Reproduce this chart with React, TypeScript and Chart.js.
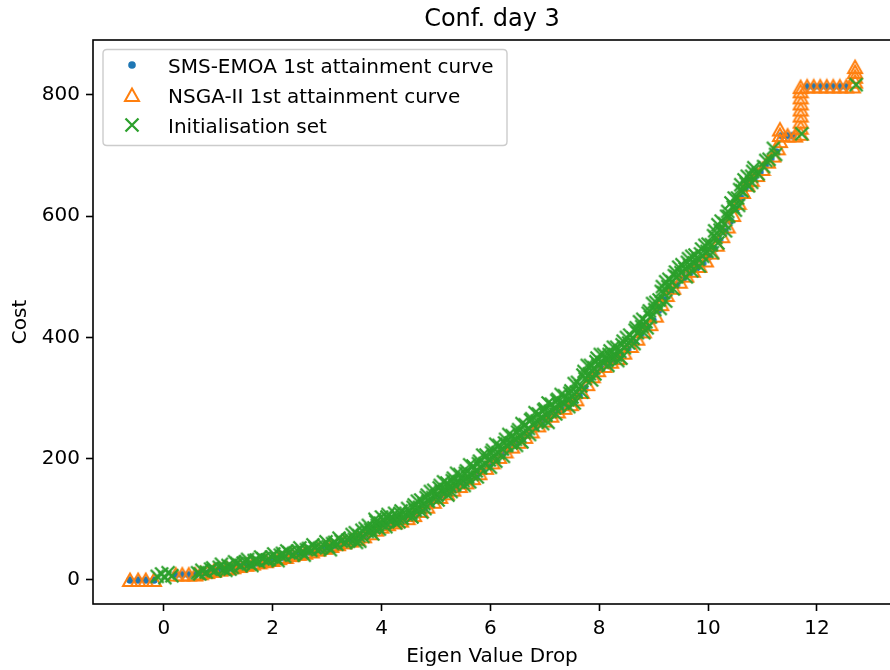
import React, { useEffect, useRef } from "react";
import { Chart, registerables } from "chart.js";

Chart.register(...registerables);

const TITLE = "Conf. day 3";
const X_LABEL = "Eigen Value Drop";
const Y_LABEL = "Cost";
const SERIES_LABELS = [
  "SMS-EMOA 1st attainment curve",
  "NSGA-II 1st attainment curve",
  "Initialisation set",
];
const SERIES_COLORS = ["#1f77b4", "#ff7f0e", "#2ca02c"];
const X_TICKS = [0, 2, 4, 6, 8, 10, 12];
const Y_TICKS = [0, 200, 400, 600, 800];
const X_RANGE = [-1.3, 13.36];
const Y_RANGE = [-39.6, 890.7];

const smsPoints: [number, number][] = [
  [-0.62, 0], [-0.47, 0], [-0.33, 0], [-0.18, 0], [0.22, 9], [0.34, 9], [0.46, 9], [0.58, 9],
  [0.74, 12], [0.86, 14], [0.98, 16], [1.1, 18], [1.22, 20], [1.34, 22], [1.46, 24], [1.58, 26],
  [1.7, 28], [1.82, 30], [1.94, 32], [2.06, 35], [2.18, 37], [2.3, 40], [2.42, 42], [2.54, 44],
  [2.66, 46], [2.78, 48], [2.9, 51], [3.02, 54], [3.14, 57], [3.26, 60], [3.38, 63], [3.5, 66],
  [3.62, 70], [3.74, 74], [3.85, 80], [3.95, 85], [4.06, 90], [4.18, 93], [4.3, 96], [4.42, 100],
  [4.54, 104], [4.66, 110], [4.78, 117], [4.9, 125], [5.02, 133], [5.14, 140], [5.26, 146], [5.38, 152],
  [5.5, 158], [5.62, 164], [5.74, 172], [5.86, 180], [5.98, 189], [6.1, 198], [6.22, 207], [6.34, 216],
  [6.46, 224], [6.58, 232], [6.7, 240], [6.82, 250], [6.94, 259], [7.06, 267], [7.18, 274], [7.3, 281],
  [7.42, 287], [7.53, 294], [7.63, 304], [7.73, 316], [7.83, 330], [7.93, 341], [8.04, 349], [8.16, 356],
  [8.28, 363], [8.4, 370], [8.52, 380], [8.64, 392], [8.76, 404], [8.88, 416], [8.99, 428], [9.09, 445],
  [9.19, 462], [9.3, 476], [9.42, 487], [9.54, 497], [9.66, 506], [9.78, 514], [9.9, 522], [10.01, 533],
  [10.11, 546], [10.21, 560], [10.31, 575], [10.41, 592], [10.51, 612], [10.6, 630], [10.68, 646], [10.76, 656],
  [10.85, 664], [10.95, 673], [11.05, 684], [11.15, 695], [11.25, 706], [11.35, 733], [11.45, 733], [11.55, 733],
  [11.82, 814], [11.94, 814], [12.06, 814], [12.18, 814], [12.3, 814], [12.42, 814], [12.54, 814],
];

const nsgaPoints: [number, number][] = [
  [-0.62, 0], [-0.47, 0], [-0.33, 0], [-0.18, 0], [0.22, 9], [0.34, 9], [0.46, 9], [0.58, 9],
  [0.68, 11], [0.8, 13], [0.92, 15], [1.04, 17], [1.16, 19], [1.28, 21], [1.4, 23], [1.52, 25],
  [1.64, 27], [1.76, 29], [1.88, 31], [2.0, 33], [2.12, 36], [2.24, 38], [2.36, 41], [2.48, 43],
  [2.6, 45], [2.72, 47], [2.84, 50], [2.96, 53], [3.08, 56], [3.2, 59], [3.32, 62], [3.44, 65],
  [3.56, 68], [3.68, 72], [3.8, 77], [3.9, 83], [4.0, 88], [4.12, 92], [4.24, 95], [4.36, 98],
  [4.48, 102], [4.6, 107], [4.72, 114], [4.84, 121], [4.96, 129], [5.08, 137], [5.2, 143], [5.32, 149],
  [5.44, 155], [5.56, 161], [5.68, 168], [5.8, 176], [5.92, 185], [6.04, 194], [6.16, 203], [6.28, 212],
  [6.4, 220], [6.52, 228], [6.64, 236], [6.76, 245], [6.88, 255], [7.0, 263], [7.12, 271], [7.24, 278],
  [7.36, 284], [7.48, 290], [7.58, 298], [7.68, 310], [7.78, 323], [7.88, 336], [7.98, 346], [8.1, 353],
  [8.22, 360], [8.34, 366], [8.46, 375], [8.58, 386], [8.7, 398], [8.82, 410], [8.94, 422], [9.04, 436],
  [9.14, 455], [9.24, 470], [9.36, 482], [9.48, 492], [9.6, 502], [9.72, 510], [9.84, 518], [9.96, 527],
  [10.06, 540], [10.16, 553], [10.26, 567], [10.36, 583], [10.46, 602], [10.56, 622], [10.64, 640], [10.72, 652],
  [10.8, 660], [10.9, 668], [11.0, 678], [11.1, 690], [11.2, 700], [11.28, 712], [11.32, 724], [11.32, 734],
  [11.32, 743], [11.46, 733], [11.6, 733], [11.7, 736], [11.7, 746], [11.7, 756], [11.7, 766], [11.7, 776],
  [11.7, 786], [11.7, 796], [11.7, 806], [11.7, 813], [11.82, 814], [11.94, 814], [12.06, 814], [12.18, 814],
  [12.3, 814], [12.42, 814], [12.54, 814], [12.66, 814], [12.7, 822], [12.7, 830], [12.7, 838], [12.7, 846],
];

const initPoints: [number, number][] = [
  [-0.12, 6], [-0.04, 10], [0.02, 4], [0.08, 12], [0.15, 7], [0.62, 12], [0.7, 16], [0.78, 13],
  [0.86, 18], [0.94, 15], [1.02, 21], [1.1, 18], [1.18, 24], [1.26, 21], [1.34, 27], [1.42, 24],
  [1.5, 30], [1.58, 27], [1.66, 32], [1.74, 30], [1.82, 35], [1.9, 33], [1.98, 38], [2.06, 36],
  [2.14, 41], [2.22, 39], [2.3, 45], [2.38, 42], [2.46, 48], [2.54, 46], [2.62, 50], [2.7, 49],
  [2.78, 53], [2.86, 52], [2.94, 57], [3.02, 55], [3.1, 60], [3.18, 59], [3.26, 64], [3.34, 62],
  [3.42, 68], [3.5, 67], [3.58, 73], [3.66, 72], [3.74, 80], [3.8, 83], [3.86, 86], [3.92, 90],
  [3.98, 94], [4.06, 96], [4.14, 99], [4.22, 101], [4.3, 103], [4.38, 102], [4.46, 108], [4.54, 110],
  [4.62, 115], [4.7, 120], [4.78, 126], [4.86, 130], [4.94, 136], [5.02, 140], [5.1, 146], [5.18, 149],
  [5.26, 154], [5.34, 157], [5.42, 162], [5.5, 164], [5.58, 170], [5.66, 174], [5.74, 180], [5.82, 185],
  [5.9, 192], [5.98, 198], [6.06, 204], [6.14, 210], [6.22, 216], [6.3, 222], [6.38, 226], [6.46, 232],
  [6.54, 237], [6.62, 243], [6.7, 250], [6.78, 256], [6.86, 262], [6.94, 268], [7.02, 272], [7.1, 278],
  [7.18, 284], [7.26, 288], [7.34, 292], [7.42, 297], [7.5, 302], [7.58, 310], [7.66, 320], [7.74, 332],
  [7.82, 340], [7.9, 350], [7.98, 355], [8.06, 359], [8.14, 363], [8.22, 367], [8.3, 371], [8.38, 377],
  [8.46, 383], [8.54, 391], [8.62, 399], [8.7, 408], [8.78, 418], [8.86, 426], [8.94, 434], [9.02, 446],
  [9.1, 462], [9.18, 474], [9.26, 484], [9.34, 492], [9.42, 500], [9.5, 507], [9.58, 513], [9.66, 519],
  [9.74, 523], [9.82, 529], [9.9, 534], [9.98, 542], [10.06, 553], [10.14, 565], [10.22, 577], [10.3, 588],
  [10.38, 600], [10.46, 615], [10.54, 630], [10.62, 642], [10.7, 654], [10.8, 666], [10.92, 670], [11.02, 682],
  [11.12, 694], [11.24, 702], [11.72, 736], [12.72, 817],
  [1.06, 26], [1.3, 30], [1.54, 34], [1.78, 38], [2.02, 43], [2.26, 48], [2.5, 53], [2.74, 58],
  [2.98, 63], [3.22, 69], [3.46, 75], [3.7, 85], [3.9, 96], [4.1, 104], [4.34, 110], [4.58, 120],
  [4.82, 136], [5.06, 152], [5.3, 164], [5.54, 176], [5.78, 192], [6.02, 210], [6.26, 226], [6.5, 244],
  [6.74, 264], [6.98, 280], [7.22, 296], [7.46, 308], [7.7, 338], [7.94, 360], [8.18, 372], [8.42, 388],
  [8.66, 412], [8.9, 440], [9.14, 476], [9.38, 502], [9.62, 524], [9.86, 538], [10.1, 568], [10.34, 600],
  [10.58, 644], [10.82, 674], [11.06, 692], [11.2, 712],
  [1.14, 16], [1.62, 24], [2.1, 32], [2.58, 41], [3.06, 50], [3.54, 62], [3.96, 84], [4.26, 94],
  [4.74, 112], [5.22, 140], [5.62, 162], [6.1, 196], [6.58, 228], [7.06, 260], [7.54, 292], [7.86, 330],
  [8.34, 362], [8.82, 408], [9.22, 460], [9.7, 510], [10.18, 556], [10.5, 610], [10.74, 650],
  [3.52, 78], [3.64, 82], [3.76, 90], [3.88, 100], [4.0, 104], [4.12, 108], [4.24, 110], [4.36, 114],
  [4.48, 118], [4.6, 124], [4.72, 132], [4.84, 140], [4.96, 148], [5.08, 156], [5.2, 160], [5.32, 168],
  [5.44, 174], [5.56, 180], [5.68, 188], [5.8, 196], [5.92, 206], [6.04, 214], [6.16, 222], [6.28, 232],
  [6.4, 238], [6.52, 248], [6.64, 256], [6.76, 266], [6.88, 274], [7.0, 282], [7.12, 290], [7.24, 298],
  [7.36, 304], [7.48, 312], [7.6, 326], [7.72, 344], [7.84, 354], [7.96, 366], [8.08, 372], [8.2, 378],
  [8.32, 384], [8.44, 394], [8.56, 404], [8.68, 416], [8.8, 430], [8.92, 444], [9.04, 458], [9.16, 484],
  [9.28, 496], [9.4, 508], [9.52, 520], [9.64, 530], [9.76, 536], [9.88, 546], [10.0, 554], [10.12, 576],
  [10.24, 592], [10.36, 608], [10.48, 630], [10.6, 652], [10.72, 666], [10.84, 680],
  [3.6, 64], [3.84, 76], [4.08, 88], [4.32, 96], [4.56, 104], [4.8, 118], [5.04, 132], [5.28, 146],
  [5.52, 156], [5.76, 170], [6.0, 186], [6.24, 204], [6.48, 222], [6.72, 240], [6.96, 258], [7.2, 274],
  [7.44, 286], [7.68, 310], [7.92, 340], [8.16, 354], [8.4, 366], [8.64, 390], [8.88, 416], [9.12, 448],
  [9.36, 480], [9.6, 500], [9.84, 518], [10.08, 540], [10.32, 576], [10.56, 618], [10.8, 656],
  [0.66, 10], [0.9, 20], [1.22, 18], [1.46, 28], [1.7, 33], [1.94, 34], [2.18, 44], [2.42, 45],
  [2.66, 52], [2.9, 54], [3.14, 62], [3.38, 66],
  [4.66, 130], [4.9, 146], [5.14, 162], [5.38, 176], [5.62, 190], [5.86, 206], [6.1, 224], [6.34, 240],
  [6.58, 258], [6.82, 276], [7.06, 292], [7.3, 306], [7.54, 324], [7.78, 354], [8.02, 372], [8.26, 384],
  [8.5, 400], [8.74, 426], [8.98, 456], [9.22, 492], [9.46, 516], [9.7, 534], [9.94, 552], [10.18, 586],
  [10.42, 622], [10.66, 660],
];

const FONT = "DejaVu Sans";

function makeDot(color: string): HTMLCanvasElement {
  const c = document.createElement("canvas");
  c.width = 10;
  c.height = 10;
  const g = c.getContext("2d")!;
  g.fillStyle = color;
  g.beginPath();
  g.arc(5, 5, 3.8, 0, Math.PI * 2);
  g.fill();
  return c;
}

function makeTriangle(color: string): HTMLCanvasElement {
  const c = document.createElement("canvas");
  c.width = 18;
  c.height = 18;
  const g = c.getContext("2d")!;
  g.strokeStyle = color;
  g.lineWidth = 2;
  g.lineJoin = "miter";
  g.beginPath();
  g.moveTo(9, 2.5);
  g.lineTo(2, 15);
  g.lineTo(16, 15);
  g.closePath();
  g.stroke();
  return c;
}

function makeCross(color: string): HTMLCanvasElement {
  const c = document.createElement("canvas");
  c.width = 16;
  c.height = 16;
  const g = c.getContext("2d")!;
  g.strokeStyle = color;
  g.lineWidth = 2.3;
  g.beginPath();
  g.moveTo(1.5, 1.5);
  g.lineTo(14.5, 14.5);
  g.moveTo(14.5, 1.5);
  g.lineTo(1.5, 14.5);
  g.stroke();
  return c;
}

const toXY = (pts: [number, number][]) => pts.map(([x, y]) => ({ x, y }));

export default function App() {
  const canvasRef = useRef<HTMLCanvasElement | null>(null);

  useEffect(() => {
    const canvas = canvasRef.current;
    if (!canvas) return;
    const markers = [
      makeDot(SERIES_COLORS[0]),
      makeTriangle(SERIES_COLORS[1]),
      makeCross(SERIES_COLORS[2]),
    ];

    const framePlugin = {
      id: "frameAndLegend",
      afterDraw(chart: any) {
        const ctx = chart.ctx as CanvasRenderingContext2D;
        const a = chart.chartArea;
        ctx.save();
        ctx.strokeStyle = "#000";
        ctx.lineWidth = 1.6;
        ctx.strokeRect(a.left, a.top, a.right - a.left, a.bottom - a.top);

        // legend box
        const bx = 103, by = 49.5, bw = 404, bh = 96, r = 4;
        ctx.beginPath();
        ctx.moveTo(bx + r, by);
        ctx.lineTo(bx + bw - r, by);
        ctx.quadraticCurveTo(bx + bw, by, bx + bw, by + r);
        ctx.lineTo(bx + bw, by + bh - r);
        ctx.quadraticCurveTo(bx + bw, by + bh, bx + bw - r, by + bh);
        ctx.lineTo(bx + r, by + bh);
        ctx.quadraticCurveTo(bx, by + bh, bx, by + bh - r);
        ctx.lineTo(bx, by + r);
        ctx.quadraticCurveTo(bx, by, bx + r, by);
        ctx.closePath();
        ctx.fillStyle = "rgba(255,255,255,0.8)";
        ctx.fill();
        ctx.strokeStyle = "#cccccc";
        ctx.lineWidth = 1.4;
        ctx.stroke();

        ctx.font = `20px "${FONT}"`;
        ctx.fillStyle = "#000";
        ctx.textAlign = "left";
        ctx.textBaseline = "alphabetic";
        chart.data.datasets.forEach((ds: any, i: number) => {
          const cy = 65 + i * 30;
          const m = markers[i];
          ctx.drawImage(m, 132 - m.width / 2, cy - m.height / 2);
          ctx.fillText(ds.label, 168, cy + 7.5);
        });
        ctx.restore();
      },
    };

    const chart = new Chart(canvas, {
      type: "scatter",
      data: {
        datasets: [
          {
            label: SERIES_LABELS[0],
            data: toXY(smsPoints),
            pointStyle: markers[0] as any,
            pointRadius: 5,
            backgroundColor: SERIES_COLORS[0],
            borderColor: SERIES_COLORS[0],
            order: 3,
          },
          {
            label: SERIES_LABELS[1],
            data: toXY(nsgaPoints),
            pointStyle: markers[1] as any,
            pointRadius: 8,
            backgroundColor: SERIES_COLORS[1],
            borderColor: SERIES_COLORS[1],
            order: 2,
          },
          {
            label: SERIES_LABELS[2],
            data: toXY(initPoints),
            pointStyle: markers[2] as any,
            pointRadius: 8,
            backgroundColor: SERIES_COLORS[2],
            borderColor: SERIES_COLORS[2],
            order: 1,
          },
        ],
      },
      options: {
        animation: false,
        responsive: false,
        devicePixelRatio: 1,
        events: [],
        layout: { padding: { left: 0, right: 1, top: 0, bottom: 0 } },
        plugins: {
          legend: { display: false },
          tooltip: { enabled: false },
          title: {
            display: true,
            text: TITLE,
            fullSize: false,
            color: "#000",
            font: { family: FONT, size: 24, weight: "normal" as any },
            padding: { top: 5, bottom: 6.2 },
          },
        },
        scales: {
          x: {
            type: "linear",
            min: X_RANGE[0],
            max: X_RANGE[1],
            afterBuildTicks: (s: any) => {
              s.ticks = X_TICKS.map((v) => ({ value: v }));
            },
            afterFit: (s: any) => {
              s.height = 66;
            },
            grid: {
              display: true,
              drawOnChartArea: false,
              drawTicks: true,
              tickLength: 7,
              tickWidth: 1.6,
              tickColor: "#000",
            },
            border: { display: false },
            ticks: {
              color: "#000",
              font: { family: FONT, size: 20 },
              padding: 6,
              maxRotation: 0,
              autoSkip: false,
            },
            title: {
              display: true,
              text: X_LABEL,
              color: "#000",
              font: { family: FONT, size: 20 },
              padding: { top: 0, bottom: 1 },
            },
          },
          y: {
            type: "linear",
            min: Y_RANGE[0],
            max: Y_RANGE[1],
            afterBuildTicks: (s: any) => {
              s.ticks = Y_TICKS.map((v) => ({ value: v }));
            },
            afterFit: (s: any) => {
              s.width = 93;
            },
            grid: {
              display: true,
              drawOnChartArea: false,
              drawTicks: true,
              tickLength: 7,
              tickWidth: 1.6,
              tickColor: "#000",
            },
            border: { display: false },
            ticks: {
              color: "#000",
              font: { family: FONT, size: 20 },
              padding: 6,
              autoSkip: false,
            },
            title: {
              display: true,
              text: Y_LABEL,
              color: "#000",
              font: { family: FONT, size: 20 },
              padding: { top: 9, bottom: 0 },
            },
          },
        },
      },
      plugins: [framePlugin],
    });

    return () => {
      chart.destroy();
    };
  }, []);

  return (
    <div
      style={{
        position: "absolute",
        left: 0,
        top: 0,
        width: 890,
        height: 670,
        overflow: "hidden",
        background: "#fff",
      }}
    >
      <canvas ref={canvasRef} width={900} height={670} style={{ width: 900, height: 670, display: "block" }} />
    </div>
  );
}
